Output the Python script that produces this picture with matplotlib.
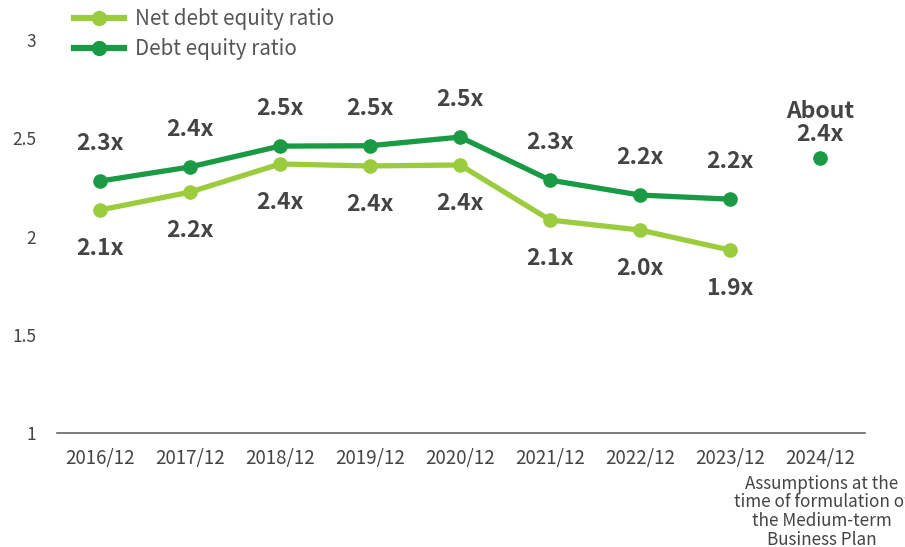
import numpy as np
import matplotlib.pyplot as plt
from matplotlib.lines import Line2D

plt.rcParams['font.family'] = ['Noto Sans CJK JP', 'DejaVu Sans']

years = ['2016/12', '2017/12', '2018/12', '2019/12', '2020/12',
         '2021/12', '2022/12', '2023/12', '2024/12']
net_de = [2.135, 2.226, 2.369, 2.359, 2.364, 2.084, 2.033, 1.931]
net_labels = ['2.1x', '2.2x', '2.4x', '2.4x', '2.4x', '2.1x', '2.0x', '1.9x']
de = [2.282, 2.354, 2.46, 2.462, 2.506, 2.287, 2.211, 2.19]
de_labels = ['2.3x', '2.4x', '2.5x', '2.5x', '2.5x', '2.3x', '2.2x', '2.2x']
plan_de = 2.40
plan_label = 'About\n2.4x'
plan_note = 'Assumptions at the\ntime of formulation of\nthe Medium-term\nBusiness Plan'

light = '#9bcc3e'
dark = '#1a9a45'
txt = '#444444'

fig = plt.figure(figsize=(9.05, 5.47), dpi=100)
ax = fig.add_axes([57/905, 1-433/547, (865-57)/905, (433-40)/547])

x = np.arange(len(net_de))
ax.plot(x, net_de, color=light, lw=3.8, marker='o', ms=9.5, zorder=3)
ax.plot(x, de, color=dark, lw=3.8, marker='o', ms=9.5, zorder=3)
ax.plot([8], [plan_de], color=dark, marker='o', ms=9.5, ls='none', zorder=3)

for i in x:
    ax.annotate(de_labels[i], (i, de[i]), xytext=(0, 27), textcoords='offset points',
                ha='center', va='center', fontsize=16.5, fontweight='bold', color=txt)
    ax.annotate(net_labels[i], (i, net_de[i]), xytext=(0, -28), textcoords='offset points',
                ha='center', va='center', fontsize=16.5, fontweight='bold', color=txt)
ax.annotate(plan_label, (8, plan_de), xytext=(0, 25), textcoords='offset points',
            ha='center', va='center', fontsize=16.5, fontweight='bold', color=txt,
            linespacing=1.0)

ax.set_xlim(-0.478, 8.5)
ax.set_ylim(1, 3)
ax.set_yticks([1, 1.5, 2, 2.5, 3])
ax.set_yticklabels(['1', '1.5', '2', '2.5', '3'])
ax.set_xticks(np.arange(len(years)))
ax.set_xticklabels(years)
ax.tick_params(axis='y', length=0, pad=15, labelsize=12.5, labelcolor=txt)
ax.tick_params(axis='x', length=0, pad=11, labelsize=13.5, labelcolor=txt)
for s in ['top', 'right', 'left']:
    ax.spines[s].set_visible(False)
ax.spines['bottom'].set_color('#666666')
ax.spines['bottom'].set_linewidth(1.2)

ax.text(8.02, -0.106, plan_note, transform=ax.get_xaxis_transform(), ha='center', va='top',
        fontsize=12.3, color=txt, linespacing=1.05)

handles = [Line2D([], [], color=light, lw=4.5, marker='o', ms=10),
           Line2D([], [], color=dark, lw=4.5, marker='o', ms=10)]
fig.legend(handles, ['Net debt equity ratio', 'Debt equity ratio'],
           loc='upper left', bbox_to_anchor=(60/905, 1.012), frameon=False,
           fontsize=14.8, labelcolor='#555555', handlelength=2.4, handletextpad=0.55,
           labelspacing=0.42, borderpad=0.2)

fig.savefig('out.png', dpi=100)
